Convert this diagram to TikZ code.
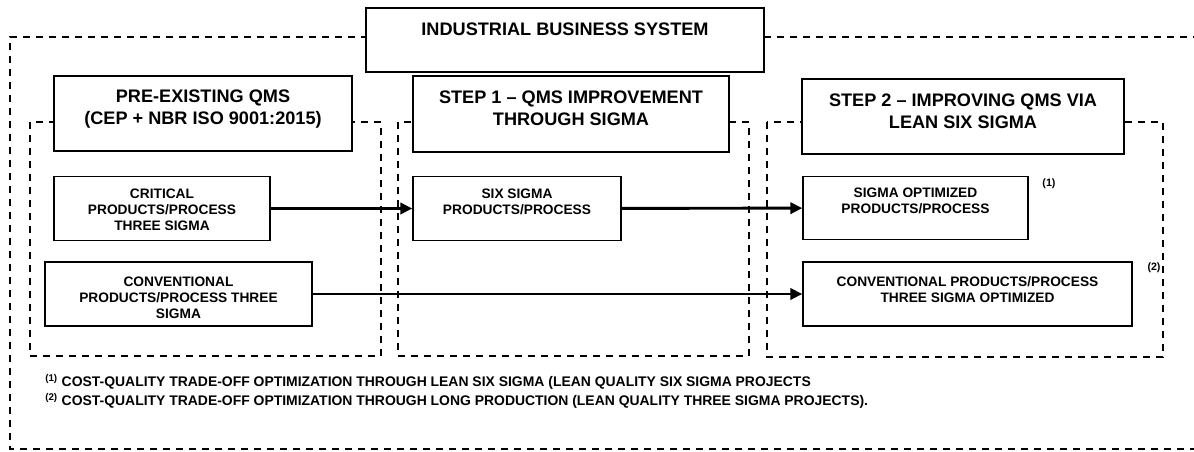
\documentclass[tikz,border=0pt]{standalone}
\usepackage{fontspec}
\setmainfont{Liberation Sans}
\usepackage{tikz}
\usetikzlibrary{positioning,arrows.meta}

\begin{document}
\begin{tikzpicture}[x=0.75pt,y=0.75pt,yscale=-1,xscale=1,
    box/.style={draw, fill=white, line width=1.1pt, inner sep=0pt},
    group/.style={line width=1.5pt, dash pattern=on 5.25pt off 4.5pt},
    headtext/.style={anchor=north, inner sep=0pt, align=center, font=\fontsize{13.6}{16.5}\selectfont\bfseries},
    bodytext/.style={anchor=north, inner sep=0pt, align=center, font=\fontsize{10.3}{12}\selectfont\bfseries},
    foottext/.style={anchor=base west, inner sep=0pt, font=\fontsize{10.45}{12}\selectfont\bfseries},
    note/.style={inner sep=0pt, font=\fontsize{8}{9.6}\selectfont\bfseries},
    flow/.style={line width=2.2pt, -{Triangle[length=9pt,width=8.5pt]}}]
        \useasboundingbox (0,0) rectangle (1194,452);

        %Dashed frame of the whole system
        \draw[group] (1200,37) -- (10,37) -- (10,449) -- (1200,449) ;
        %Dashed frames of the three stages
        \draw[group] (30,122) rectangle (381,356) ;
        \draw[group] (398,122) rectangle (749,356) ;
        \draw[group] (767,122) rectangle (1163,357) ;

        %Shape: Rectangle
        \node[box, minimum width=298.5pt, minimum height=48pt] (sys) at (565,40) {};
        % Text Node
        \node[headtext] (sys-t) at (565,23) {INDUSTRIAL BUSINESS SYSTEM};

        %Stage headers
        \node[box, minimum width=223.5pt, minimum height=56.25pt] (pre) at (203,113.5) {};
        \node[headtext] (pre-t) at (203,90) {PRE-EXISTING QMS\\(CEP + NBR ISO 9001:2015)};
        \node[box, minimum width=237pt, minimum height=57pt] (step1) at (571,114) {};
        \node[headtext] (step1-t) at (571,91) {STEP 1 -- QMS IMPROVEMENT\\THROUGH SIGMA};
        \node[box, minimum width=241.5pt, minimum height=56.25pt] (step2) at (963,116.5) {};
        \node[headtext] (step2-t) at (963,94) {STEP 2 -- IMPROVING QMS VIA\\LEAN SIX SIGMA};

        %Products / process boxes
        \node[box, minimum width=162pt, minimum height=48pt] (crit) at (162,208.5) {};
        \node[bodytext] (crit-t) at (162,189) {CRITICAL\\PRODUCTS/PROCESS\\THREE SIGMA};
        \node[box, minimum width=200.25pt, minimum height=48pt] (conv) at (178.5,294) {};
        \node[bodytext] (conv-t) at (178.5,277) {CONVENTIONAL\\PRODUCTS/PROCESS THREE\\SIGMA};
        \node[box, minimum width=156pt, minimum height=48pt] (six) at (517,208.5) {};
        \node[bodytext] (six-t) at (517,189) {SIX SIGMA\\PRODUCTS/PROCESS};
        \node[box, minimum width=168.75pt, minimum height=47.25pt] (opt) at (915.5,208) {};
        \node[bodytext] (opt-t) at (915.5,188) {SIGMA OPTIMIZED\\PRODUCTS/PROCESS};
        \node[box, minimum width=246.75pt, minimum height=48pt] (convopt) at (967.5,294) {};
        \node[bodytext] (convopt-t) at (967.5,276) {CONVENTIONAL PRODUCTS/PROCESS\\THREE SIGMA OPTIMIZED};

        %Note marks
        \node[note] (mark1) at (1049,184) {(1)};
        \node[note] (mark2) at (1154,268) {(2)};

        %Arrows
        \draw[flow] (crit) -- (six) ;
        \draw[flow] (six) -- (opt) ;
        \draw[flow] (conv) -- (convopt) ;

        %Footnotes
        \node[foottext] (note1) at (45,386) {\textsuperscript{(1)} COST-QUALITY TRADE-OFF OPTIMIZATION THROUGH LEAN SIX SIGMA (LEAN QUALITY SIX SIGMA PROJECTS};
        \node[foottext] (note2) at (45,405) {\textsuperscript{(2)} COST-QUALITY TRADE-OFF OPTIMIZATION THROUGH LONG PRODUCTION (LEAN QUALITY THREE SIGMA PROJECTS).};
\end{tikzpicture}
\end{document}
